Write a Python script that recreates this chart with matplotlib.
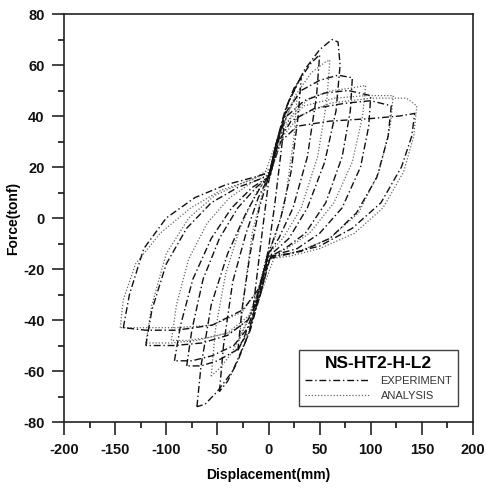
import matplotlib
matplotlib.use("Agg")
import matplotlib.pyplot as plt
from matplotlib.ticker import MultipleLocator

plt.rcParams['font.family'] = ['Liberation Sans', 'DejaVu Sans']
plt.rcParams['axes.unicode_minus'] = False

# Experiment loops (dash-dot)
exp_x = [
    [-15, -12, -6, 0, 6, 12, 15, 12, 6, 0, -6, -12, -15],
    [-30, -26, -18, -9, 0, 8, 16, 25, 32, 29, 22, 12, 0, -8, -16, -24, -30],
    [-48, -44, -35, -22, -10, 0, 8, 18, 30, 42, 50, 47, 38, 24, 10, 0, -8, -18, -30, -40, -48],
    [-70, -66, -56, -40, -22, -8, 2, 10, 20, 35, 50, 62, 68, 70, 66, 55, 38, 20, 6, -2, -10, -20, -35, -50, -62, -70],
    [-80, -75, -64, -48, -30, -12, 0, 8, 18, 32, 50, 68, 82, 80, 72, 56, 36, 16, 2, -8, -18, -32, -50, -66, -80],
    [-92, -86, -74, -56, -36, -16, 0, 8, 18, 35, 55, 78, 100, 98, 90, 72, 50, 28, 10, 0, -8, -18, -34, -55, -75, -92],
    [-120, -114, -100, -80, -56, -30, -10, 2, 10, 22, 45, 75, 100, 120, 117, 106, 86, 60, 32, 10, 0, -8, -20, -40, -65, -92, -120],
    [-142, -136, -122, -100, -72, -42, -14, 2, 12, 28, 60, 100, 128, 143, 140, 130, 110, 82, 50, 20, 0, -10, -25, -55, -90, -120, -142],
]
exp_y = [
    [-35, -25, -5, 14, 26, 33, 35, 25, 5, -12, -24, -32, -35],
    [-52, -36, -14, 4, 16, 30, 42, 51, 55, 40, 18, 0, -14, -26, -38, -47, -52],
    [-68, -50, -25, -6, 8, 16, 30, 44, 54, 61, 64, 48, 24, 4, -8, -14, -28, -44, -56, -64, -68],
    [-74, -58, -34, -14, 2, 12, 17, 32, 46, 58, 66, 70, 69, 60, 42, 22, 4, -8, -13, -16, -30, -46, -60, -68, -73, -74],
    [-58, -44, -24, -8, 4, 12, 16, 30, 42, 50, 54, 56, 55, 42, 24, 6, -6, -12, -15, -30, -44, -52, -56, -58, -58],
    [-56, -42, -24, -8, 4, 12, 16, 30, 40, 46, 49, 50, 48, 36, 20, 4, -6, -12, -14, -16, -30, -42, -50, -54, -56, -56],
    [-50, -36, -18, -4, 6, 12, 15, 17, 30, 38, 43, 45, 46, 44, 32, 16, 2, -8, -13, -15, -16, -30, -40, -46, -49, -50, -50],
    [-43, -30, -12, 0, 8, 13, 16, 18, 30, 36, 38, 39, 40, 41, 32, 20, 6, -4, -11, -14, -15, -28, -36, -42, -44, -44, -43],
]

# Analysis loops (dotted)
ana_x = [
    [-28, -24, -16, -6, 2, 10, 20, 28, 25, 16, 6, -2, -10, -20, -28],
    [-56, -52, -42, -28, -12, 2, 12, 26, 42, 55, 60, 57, 48, 32, 14, 0, -10, -22, -36, -48, -56],
    [-95, -90, -78, -60, -38, -16, 0, 10, 22, 40, 62, 82, 95, 92, 82, 64, 40, 18, 2, -8, -20, -38, -60, -80, -95],
    [-120, -114, -100, -78, -52, -24, -4, 6, 16, 35, 65, 95, 122, 119, 108, 88, 60, 30, 6, -6, -18, -40, -70, -95, -120],
    [-145, -142, -130, -106, -76, -46, -16, 4, 14, 30, 60, 100, 135, 145, 142, 132, 112, 84, 50, 20, 2, -10, -26, -55, -90, -120, -145],
]
ana_y = [
    [-46, -30, -6, 10, 18, 32, 42, 48, 32, 6, -8, -15, -28, -40, -46],
    [-62, -44, -22, -4, 10, 18, 34, 48, 57, 61, 62, 46, 24, 4, -8, -14, -28, -42, -53, -59, -62],
    [-48, -34, -16, -2, 8, 14, 17, 30, 40, 47, 50, 51, 52, 40, 22, 6, -6, -12, -15, -30, -40, -45, -47, -48, -48],
    [-49, -34, -14, 0, 9, 14, 17, 28, 37, 44, 47, 48, 48, 36, 18, 2, -8, -13, -15, -28, -38, -45, -48, -49, -49],
    [-43, -32, -18, -6, 4, 11, 15, 20, 32, 40, 45, 47, 47, 44, 32, 18, 4, -6, -12, -15, -16, -28, -37, -42, -43, -43, -43],
]

fig = plt.figure(figsize=(4.86, 4.88), dpi=100)
ax = fig.add_axes([0.1317, 0.1352, 0.8416, 0.8361])

for i in range(len(ana_x)):
    ax.plot(ana_x[i], ana_y[i], color='#666666', lw=0.9, ls=(0, (1, 1.5)),
            label='ANALYSIS' if i == 0 else None)
for i in range(len(exp_x)):
    ax.plot(exp_x[i], exp_y[i], color='#111111', lw=1.0, ls=(0, (5, 2, 1, 2)),
            label='EXPERIMENT' if i == 0 else None)

ax.set_xlim(-200, 200)
ax.set_ylim(-80, 80)
ax.xaxis.set_major_locator(MultipleLocator(50))
ax.xaxis.set_minor_locator(MultipleLocator(25))
ax.yaxis.set_major_locator(MultipleLocator(20))
ax.yaxis.set_minor_locator(MultipleLocator(10))
ax.tick_params(which='major', direction='out', length=9, width=1.1, labelsize=10.5, colors='#111111')
ax.tick_params(axis='x', which='major', pad=6)
ax.tick_params(axis='y', which='major', pad=5)
ax.tick_params(which='minor', direction='out', length=4.5, width=1.1)
for lab in ax.get_xticklabels() + ax.get_yticklabels():
    lab.set_fontweight('bold')
for s in ax.spines.values():
    s.set_linewidth(1.2)
    s.set_color('#222222')

ax.set_xlabel('Displacement(mm)', fontsize=10, fontweight='bold', labelpad=8)
ax.set_ylabel('Force(tonf)', fontsize=10, fontweight='bold', labelpad=2)

h, l = ax.get_legend_handles_labels()
leg = ax.legend(h[::-1], l[::-1], loc='lower right', bbox_to_anchor=(0.963, 0.039),
                borderaxespad=0,
                title='NS-HT2-H-L2', title_fontproperties={'size': 12.5, 'weight': 'bold'},
                fontsize=8, handlelength=5.8, frameon=True, fancybox=False,
                edgecolor='#111111', borderpad=0.5, labelspacing=0.45, handletextpad=1.0)
leg.get_frame().set_linewidth(1.0)
for t in leg.get_texts():
    t.set_color('#333333')

fig.savefig('out.png', dpi=100)
